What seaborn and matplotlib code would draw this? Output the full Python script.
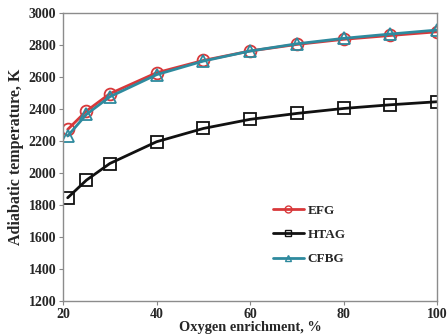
import matplotlib
matplotlib.use("Agg")
import matplotlib.pyplot as plt
from matplotlib.lines import Line2D
import seaborn as sns
import pandas as pd

# Oxygen enrichment (%) and adiabatic temperature (K) for each gasifier
oxygen = [21, 25, 30, 40, 50, 60, 70, 80, 90, 100]
efg = [2273, 2388, 2496, 2627, 2704, 2763, 2804, 2836, 2860, 2883]
htag = [1846, 1956, 2060, 2196, 2279, 2336, 2373, 2404, 2427, 2446]
cfbg = [2232, 2367, 2477, 2615, 2700, 2763, 2808, 2842, 2869, 2894]

series_names = ["EFG", "HTAG", "CFBG"]
x_ticks = [20, 40, 60, 80, 100]
y_ticks = [1200, 1400, 1600, 1800, 2000, 2200, 2400, 2600, 2800, 3000]

df = pd.DataFrame({
    "oxygen": oxygen * 3,
    "temp": efg + htag + cfbg,
    "gasifier": sum([[n] * len(oxygen) for n in series_names], []),
})

sns.set_style("white")
plt.rcParams["font.family"] = ["Liberation Serif", "DejaVu Serif"]
plt.rcParams["font.weight"] = "bold"

fig, ax = plt.subplots(figsize=(4.47, 3.35), dpi=100)
fig.subplots_adjust(left=0.141, right=0.978, top=0.961, bottom=0.101)

palette = {"EFG": "#d8383a", "HTAG": "#111111", "CFBG": "#2e8a9e"}
markers = {"EFG": "o", "HTAG": "s", "CFBG": "^"}

sns.lineplot(data=df, x="oxygen", y="temp", hue="gasifier", style="gasifier",
             palette=palette, markers=markers, dashes=False, linewidth=2.0,
             markersize=8.5, markerfacecolor="none", markeredgewidth=1.3,
             ax=ax, legend=False)
# open markers drawn in each series colour
for line, name in zip(ax.get_lines(), series_names):
    line.set_markeredgecolor(palette[name])
    line.set_markerfacecolor("none")

ax.set_xlim(20, 100)
ax.set_ylim(1200, 3000)
ax.set_xticks(x_ticks)
ax.set_yticks(y_ticks)
ax.tick_params(axis="both", labelsize=10, length=3, width=0.8, direction="out",
               color="#888888", pad=2)
ax.tick_params(axis="x", bottom=True)
ax.tick_params(axis="y", left=True)
for lab in ax.get_xticklabels() + ax.get_yticklabels():
    lab.set_fontweight("bold")
for sp in ax.spines.values():
    sp.set_color("#8c8c8c")
    sp.set_linewidth(1.0)

ax.set_xlabel("Oxygen enrichment, %", fontsize=10.4, fontweight="bold", labelpad=0)
ax.set_ylabel("Adiabatic temperature, K", fontsize=11.5, fontweight="bold", labelpad=3)

handles = [Line2D([], [], color=palette[n], marker=markers[n], markersize=5,
                  markerfacecolor="none", markeredgecolor=palette[n],
                  markeredgewidth=1.0, linewidth=2.0) for n in series_names]
ax.legend(handles, series_names, loc="center left", bbox_to_anchor=(0.53, 0.23),
          frameon=False, handlelength=2.3, handletextpad=0.3, labelspacing=0.9,
          prop={"family": "Liberation Serif", "weight": "bold", "size": 9.5})

fig.savefig("out.png", dpi=100)
